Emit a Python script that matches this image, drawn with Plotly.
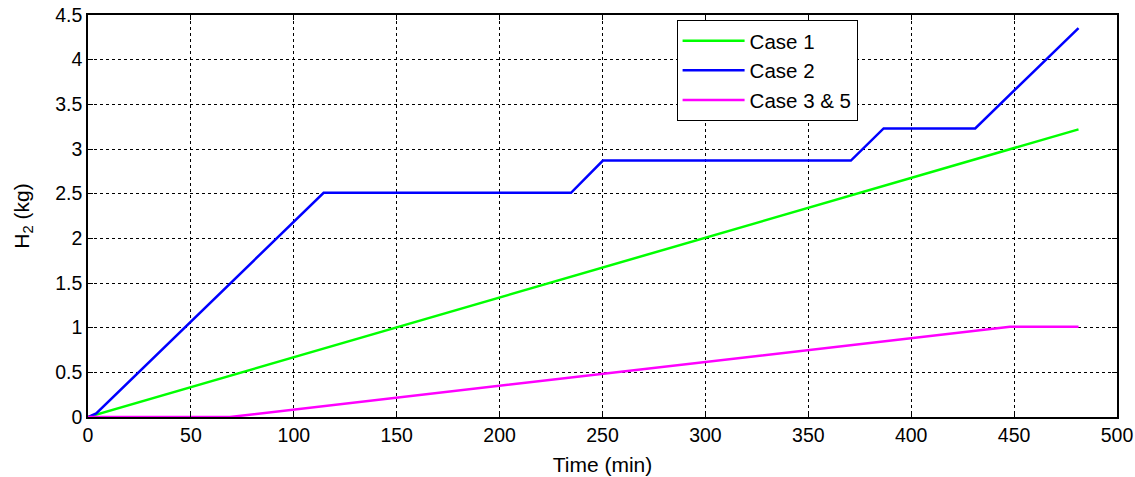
import plotly.graph_objects as go

# Data
case1_t = [0, 481.3]
case1_h2 = [0, 3.22]

case2_t = [0, 4, 114.5, 234.7, 250.2, 370.7, 386.6, 431.1, 481.3]
case2_h2 = [0, 0.04, 2.51, 2.51, 2.87, 2.87, 3.23, 3.23, 4.354]

case35_t = [0, 69, 448, 481.3]
case35_h2 = [0, 0, 1.01, 1.01]

x_ticks = list(range(0, 501, 50))
y_ticks = [0, 0.5, 1, 1.5, 2, 2.5, 3, 3.5, 4, 4.5]
y_tick_text = ["0", "0.5", "1", "1.5", "2", "2.5", "3", "3.5", "4", "4.5"]

font_family = "Liberation Sans, Arial, sans-serif"
fs_tick = 19.5
fs_title = 21
fs_leg = 20.5

fig = go.Figure()
fig.add_trace(go.Scatter(x=case1_t, y=case1_h2, mode="lines", name="Case 1",
                         line=dict(color="#00FF00", width=2.5)))
fig.add_trace(go.Scatter(x=case2_t, y=case2_h2, mode="lines", name="Case 2",
                         line=dict(color="#0000FF", width=2.5)))
fig.add_trace(go.Scatter(x=case35_t, y=case35_h2, mode="lines", name="Case 3 & 5",
                         line=dict(color="#FF00FF", width=2.5)))

axis_common = dict(
    showline=True, linecolor="black", linewidth=1.5, mirror="ticks",
    ticks="inside", ticklen=5, tickcolor="black", tickwidth=1,
    showgrid=True, gridcolor="black", griddash="dot", gridwidth=1,
    zeroline=False, automargin=False, ticklabeloverflow="allow",
    tickfont=dict(family=font_family, size=fs_tick, color="black"),
)

fig.update_xaxes(range=[0, 500], tickvals=x_ticks,
                 title=dict(text="Time (min)", font=dict(family=font_family, size=fs_title, color="black"), standoff=12),
                 **axis_common)
fig.update_yaxes(range=[0, 4.5], tickvals=y_ticks, ticktext=y_tick_text,
                 title=dict(text="H<sub>2</sub> (kg)", font=dict(family=font_family, size=fs_title, color="black"), standoff=20),
                 **axis_common)

fig.update_layout(
    width=1135, height=477,
    margin=dict(l=88, r=18, t=15, b=60),
    paper_bgcolor="white", plot_bgcolor="white",
    font=dict(family=font_family, size=fs_tick, color="black"),
    legend=dict(x=0.572, y=0.988, xanchor="left", yanchor="top",
                bgcolor="white", bordercolor="black", borderwidth=1,
                font=dict(family=font_family, size=fs_leg, color="black"),
                itemwidth=62, tracegroupgap=0),
    showlegend=True,
)

fig.write_html(
    "out.html",
    config={"displayModeBar": False},
    post_script="document.body.style.margin='0';document.body.style.overflow='hidden';",
)
